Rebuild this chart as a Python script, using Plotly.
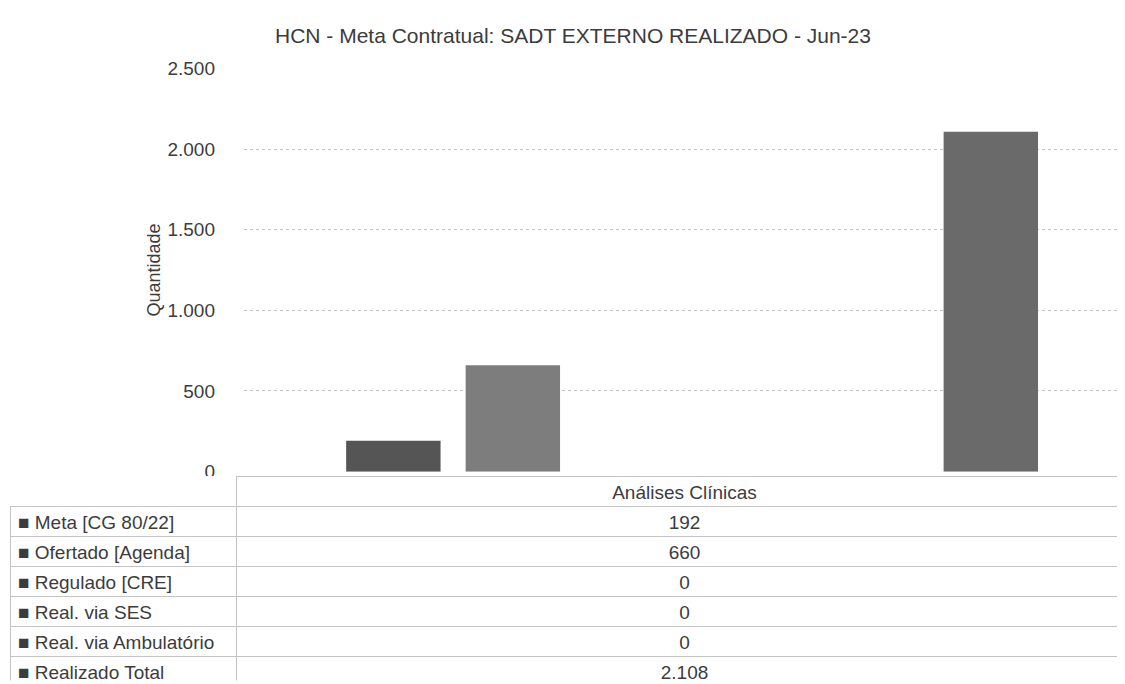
import plotly.graph_objects as go

# ---- data ----
category = ["Análises Clínicas"]
series_names = ["Meta [CG 80/22]", "Ofertado [Agenda]", "Regulado [CRE]",
                "Real. via SES", "Real. via Ambulatório", "Realizado Total"]
series_values = [192, 660, 0, 0, 0, 2108]
series_colors = ["#555555", "#7d7d7d", "#9c9c9c", "#a4a4a4", "#8c8c8c", "#6a6a6a"]
y_ticks = [0, 500, 1000, 1500, 2000, 2500]
title_text = "HCN - Meta Contratual: SADT EXTERNO REALIZADO - Jun-23"
y_title = "Quantidade"

W, H = 1125, 684
FONT = "Liberation Sans, Arial, sans-serif"
TXT = "#3c3c3c"
GRID = "#c4c4c4"


def fmt(v):
    return f"{v:,}".replace(",", ".")


fig = go.Figure()
for name, val, col in zip(series_names, series_values, series_colors):
    fig.add_trace(go.Bar(x=category, y=[val], name=name, marker_color=col,
                         marker_line_width=0, showlegend=False,
                         xaxis="x", yaxis="y"))

# data table below chart
left_col = [f"■ {n}" for n in series_names]
right_col = [fmt(v) for v in series_values]

fig.add_trace(go.Table(
    domain=dict(x=[2 / W, 1], y=[0, 1 - 473 / H]),
    columnwidth=[226, 897],
    header=dict(values=["", category[0]],
                fill_color="white",
                line=dict(color=["rgba(0,0,0,0)", GRID], width=1),
                align="center", height=30,
                font=dict(family=FONT, size=19, color=TXT)),
    cells=dict(values=[left_col, right_col],
               fill_color="white",
               line=dict(color=GRID, width=1),
               align=["left", "center"], height=30,
               font=dict(family=FONT, size=19, color=TXT)),
))

fig.update_layout(
    width=W, height=H,
    margin=dict(l=0, r=0, t=0, b=0),
    paper_bgcolor="white", plot_bgcolor="white",
    separators=",.",
    barmode="group", bargap=0.2, bargroupgap=0.21,
    title=dict(text=title_text, x=565 / W, xanchor="center",
               y=1 - 28 / H, yanchor="middle",
               font=dict(family=FONT, size=21, color=TXT)),
    xaxis=dict(domain=[236 / W, 1], range=[-0.5, 0.492],
               showticklabels=False, showgrid=False, zeroline=False,
               showline=False, ticks=""),
    yaxis=dict(domain=[1 - 468 / H, 1 - 52 / H], range=[0, 2500],
               tickvals=y_ticks, tickformat=",d",
               showgrid=True, gridcolor=GRID, griddash="dot", gridwidth=1,
               zeroline=False, showline=False, ticks="",
               ticklabelstandoff=28,
               tickfont=dict(family=FONT, size=19, color=TXT),
               title=dict(text=y_title, standoff=2,
                          font=dict(family=FONT, size=18, color=TXT))),
)

fig.write_html("out.html")
